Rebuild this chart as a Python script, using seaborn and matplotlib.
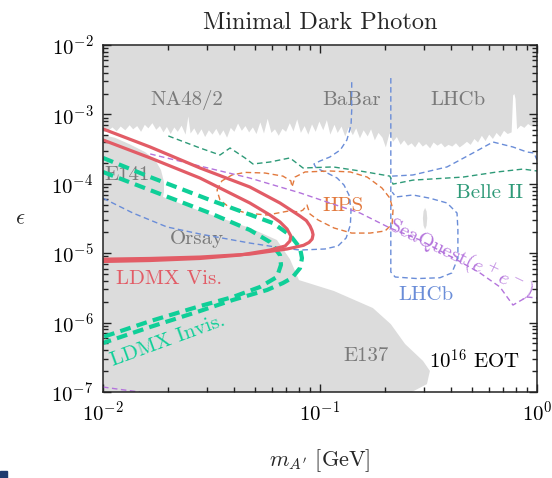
import matplotlib
matplotlib.use("Agg")
import matplotlib.pyplot as plt
from matplotlib.patches import Rectangle
from matplotlib.ticker import NullFormatter, LogLocator
import pandas as pd
import seaborn as sns

# ---------------- data (dark photon mass in GeV, kinetic mixing epsilon) ----------------
# Upper excluded region (NA48/2, BaBar, LHCb): lower edge of the shaded band
TOP_M = [0.0100, 0.0105, 0.0110, 0.0115, 0.0120, 0.0126, 0.0132, 0.0137, 0.0143, 0.0149,
         0.0155, 0.0161, 0.0168, 0.0175, 0.0182, 0.0189, 0.0196, 0.0204, 0.0212, 0.0220,
         0.0229, 0.0239, 0.0246, 0.0252, 0.0262, 0.0272, 0.0283, 0.0294, 0.0306, 0.0318,
         0.0331, 0.0344, 0.0357, 0.0371, 0.0386, 0.0401, 0.0417, 0.0434, 0.0451, 0.0469,
         0.0488, 0.0507, 0.0528, 0.0549, 0.0571, 0.0594, 0.0617, 0.0642, 0.0668, 0.0694,
         0.0722, 0.0751, 0.0781, 0.0812, 0.0845, 0.0879, 0.0914, 0.0950, 0.0988, 0.103,
         0.107, 0.111, 0.116, 0.120, 0.125, 0.130, 0.135, 0.141, 0.146, 0.152,
         0.158, 0.165, 0.171, 0.178, 0.185, 0.193, 0.200, 0.208, 0.216, 0.225,
         0.234, 0.243, 0.253, 0.263, 0.273, 0.284, 0.296, 0.307, 0.320, 0.332,
         0.346, 0.360, 0.374, 0.389, 0.405, 0.421, 0.438, 0.455, 0.473, 0.492,
         0.512, 0.532, 0.554, 0.576, 0.599, 0.623, 0.648, 0.674, 0.701, 0.729,
         0.760, 0.772, 0.782, 0.792, 0.805, 0.837, 0.870, 0.905, 0.941, 0.979, 1.000]
TOP_EPS = [6.4e-4, 5.9e-4, 6.6e-4, 5.8e-4, 6.8e-4, 6.0e-4, 7.1e-4, 6.2e-4, 6.9e-4, 5.7e-4,
           7.2e-4, 6.4e-4, 7.6e-4, 6.1e-4, 6.9e-4, 5.6e-4, 6.7e-4, 5.3e-4, 6.6e-4, 5.7e-4,
           7.0e-4, 5.2e-4, 9.5e-4, 5.4e-4, 6.4e-4, 5.1e-4, 6.2e-4, 4.8e-4, 6.0e-4, 5.2e-4,
           6.3e-4, 5.0e-4, 6.0e-4, 4.7e-4, 6.5e-4, 5.7e-4, 7.5e-4, 5.9e-4, 6.9e-4, 5.6e-4,
           6.6e-4, 5.3e-4, 7.8e-4, 5.4e-4, 8.8e-4, 5.5e-4, 6.2e-4, 5.0e-4, 6.3e-4, 5.7e-4,
           7.6e-4, 5.8e-4, 8.6e-4, 5.5e-4, 6.9e-4, 5.2e-4, 7.3e-4, 5.7e-4, 8.0e-4, 6.0e-4,
           8.4e-4, 5.2e-4, 7.2e-4, 5.5e-4, 6.8e-4, 4.9e-4, 6.6e-4, 5.1e-4, 6.4e-4, 4.6e-4,
           6.0e-4, 4.9e-4, 6.2e-4, 4.3e-4, 5.5e-4, 4.7e-4, 3.4e-4, 5.4e-4, 4.1e-4, 4.8e-4,
           3.7e-4, 4.3e-4, 3.6e-4, 3.9e-4, 3.4e-4, 4.1e-4, 3.5e-4, 3.8e-4, 3.3e-4, 4.0e-4,
           3.6e-4, 3.9e-4, 3.4e-4, 3.7e-4, 3.5e-4, 3.9e-4, 3.4e-4, 3.7e-4, 4.1e-4, 3.7e-4,
           4.5e-4, 4.0e-4, 5.0e-4, 4.2e-4, 5.2e-4, 4.5e-4, 5.5e-4, 4.8e-4, 5.9e-4, 5.3e-4,
           5.6e-4, 1.9e-3, 2.0e-3, 1.7e-3, 6.2e-4, 7.0e-4, 6.5e-4, 7.4e-4, 6.8e-4, 7.4e-4, 7.0e-4]

# Lower excluded region (E141, Orsay, E137 beam dumps), closed outline
LOW_M = [0.0100, 0.01136, 0.0133, 0.01562, 0.0174, 0.0185, 0.0191, 0.0191, 0.0189, 0.0280,
         0.0475, 0.0633, 0.0727, 0.0800, 0.116, 0.1754, 0.212, 0.2466, 0.2985, 0.321,
         0.311, 0.265, 0.0100]
LOW_EPS = [5.05e-4, 4.6e-4, 3.7e-4, 2.87e-4, 2.20e-4, 1.58e-4, 1.06e-4, 7.6e-5, 6.46e-5, 4.06e-5,
           2.31e-5, 1.55e-5, 8.2e-6, 4.1e-6, 2.85e-6, 1.62e-6, 9.5e-7, 4.92e-7, 2.80e-7, 2.01e-7,
           1.30e-7, 1.0e-7, 1.0e-7]

# Small isolated LHCb excluded island
ISLAND_M = [0.298, 0.300, 0.305, 0.310, 0.312, 0.310, 0.305, 0.300]
ISLAND_EPS = [3.2e-5, 4.0e-5, 4.5e-5, 4.0e-5, 3.2e-5, 2.5e-5, 2.2e-5, 2.5e-5]

# LDMX visible-decay reach (two contours)
VIS_OUT_M = [0.0100, 0.0165, 0.0280, 0.0475, 0.0654, 0.0809, 0.0865, 0.0899, 0.0920, 0.0929,
             0.0920, 0.0890, 0.0840, 0.0770, 0.0705, 0.0475, 0.0280, 0.0165, 0.0100]
VIS_OUT_EPS = [6.17e-4, 3.39e-4, 1.69e-4, 9.0e-5, 5.29e-5, 3.43e-5, 2.95e-5, 2.47e-5, 2.10e-5, 1.85e-5,
               1.60e-5, 1.43e-5, 1.30e-5, 1.22e-5, 1.15e-5, 9.7e-6, 8.8e-6, 8.4e-6, 8.2e-6]
VIS_IN_M = [0.0100, 0.0165, 0.0280, 0.0475, 0.0588, 0.0654, 0.0705, 0.0734, 0.0727, 0.0691,
            0.0588, 0.0428, 0.0280, 0.0165, 0.0100]
VIS_IN_EPS = [4.28e-4, 2.36e-4, 1.21e-4, 5.29e-5, 3.55e-5, 2.82e-5, 2.23e-5, 1.77e-5, 1.50e-5, 1.27e-5,
              1.11e-5, 9.4e-6, 8.4e-6, 7.85e-6, 7.6e-6]

# LDMX invisible-decay reach (two contours)
INV_OUT_M = [0.0100, 0.0165, 0.0311, 0.0606, 0.0727, 0.0809, 0.0826, 0.0809, 0.0743, 0.0675,
             0.0570, 0.0397, 0.0280, 0.0165, 0.0100]
INV_OUT_EPS = [2.36e-4, 1.25e-4, 5.85e-5, 2.72e-5, 1.83e-5, 1.19e-5, 8.5e-6, 6.1e-6, 4.4e-6, 3.72e-6,
               2.95e-6, 2.12e-6, 1.47e-6, 8.65e-7, 5.08e-7]
INV_IN_M = [0.0100, 0.0165, 0.0311, 0.0475, 0.0588, 0.0654, 0.0661, 0.0633, 0.0529, 0.0397,
            0.0280, 0.0165, 0.0100]
INV_IN_EPS = [1.48e-4, 8.1e-5, 3.79e-5, 2.16e-5, 1.45e-5, 9.4e-6, 6.8e-6, 4.54e-6, 3.26e-6, 2.34e-6,
              1.73e-6, 1.05e-6, 6.2e-7]

# Belle II projection
BELLE_M = [0.0200, 0.0280, 0.0346, 0.0385, 0.0451, 0.0491, 0.0588, 0.0727, 0.0835, 0.115,
           0.153, 0.210, 0.217, 0.268, 0.456, 0.654, 0.861, 1.000]
BELLE_EPS = [4.89e-4, 3.28e-4, 2.60e-4, 3.28e-4, 2.36e-4, 1.93e-4, 2.06e-4, 2.36e-4, 1.69e-4, 1.75e-4,
             1.53e-4, 1.29e-4, 9.9e-5, 1.13e-4, 1.25e-4, 1.48e-4, 1.63e-4, 1.53e-4]

# SeaQuest (e+e-) projection
SEAQ_M = [0.0165, 0.0280, 0.0475, 0.0809, 0.111, 0.153, 0.210, 0.289, 0.428, 0.546,
          0.675, 0.728, 0.775, 0.835, 0.899, 1.000]
SEAQ_EPS = [2.69e-4, 1.80e-4, 1.21e-4, 7.4e-5, 5.29e-5, 3.79e-5, 2.31e-5, 1.55e-5, 8.0e-6, 5.19e-6,
            3.26e-6, 2.34e-6, 1.79e-6, 2.05e-6, 2.34e-6, 2.26e-6]
SEAQ_LOW_M = [0.0100, 0.01197, 0.0148]
SEAQ_LOW_EPS = [1.18e-7, 1.09e-7, 1.0e-7]

# HPS projection
HPS_M = [0.0335, 0.0353, 0.0393, 0.0451, 0.0558, 0.0675, 0.0734, 0.0743, 0.0767, 0.0853,
         0.111, 0.138, 0.165, 0.193, 0.210, 0.217, 0.215, 0.1995, 0.170, 0.140,
         0.116, 0.098, 0.0899, 0.0871, 0.0835, 0.0800, 0.0719, 0.0570, 0.0456, 0.0385,
         0.0346, 0.0335]
HPS_EPS = [8.1e-5, 1.10e-4, 1.34e-4, 1.46e-4, 1.43e-4, 1.29e-4, 1.10e-4, 9.0e-5, 1.25e-4, 1.48e-4,
           1.53e-4, 1.48e-4, 1.25e-4, 8.7e-5, 6.2e-5, 4.19e-5, 2.64e-5, 2.09e-5, 1.95e-5, 1.95e-5,
           2.31e-5, 3.01e-5, 3.67e-5, 4.95e-5, 4.19e-5, 3.93e-5, 4.06e-5, 3.55e-5, 3.79e-5, 4.48e-5,
           5.85e-5, 8.1e-5]

# BaBar-line projection contour
BABAR_M = [0.0100, 0.01374, 0.0197, 0.0280, 0.0397, 0.0475, 0.0668, 0.0809, 0.1054, 0.121,
           0.132, 0.138, 0.139, 0.136, 0.129, 0.120, 0.108, 0.096, 0.0938, 0.100,
           0.111, 0.124, 0.133, 0.139, 0.140, 0.140]
BABAR_EPS = [6.2e-5, 3.79e-5, 2.39e-5, 1.89e-5, 1.55e-5, 1.40e-5, 1.19e-5, 1.11e-5, 1.15e-5, 1.27e-5,
             1.66e-5, 2.55e-5, 4.19e-5, 6.9e-5, 9.6e-5, 1.21e-4, 1.43e-4, 1.69e-4, 1.93e-4, 2.13e-4,
             2.43e-4, 3.07e-4, 4.28e-4, 7.0e-4, 1.16e-3, 2.93e-3]

# LHCb projections
LHCB_A_M = [0.212, 0.212, 0.222, 0.280, 0.357, 0.405, 0.432, 0.432, 0.428, 0.385,
            0.321, 0.268, 0.224, 0.215]
LHCB_A_EPS = [3.34e-3, 5.36e-6, 4.54e-6, 4.31e-6, 4.43e-6, 5.19e-6, 8.5e-6, 2.16e-5, 3.79e-5, 5.29e-5,
              6.2e-5, 6.9e-5, 6.46e-5, 7.6e-5]
LHCB_B_M = [0.215, 0.268, 0.385, 0.507, 0.627, 0.775, 0.899, 0.969, 1.000]
LHCB_B_EPS = [1.29e-4, 1.34e-4, 1.75e-4, 2.78e-4, 4.0e-4, 3.39e-4, 2.87e-4, 2.78e-4, 2.20e-4]

# ---------------- style ----------------
sns.set_theme(style="ticks")
plt.rcParams.update({
    "font.family": ["cmr10"],
    "mathtext.fontset": "cm",
    "axes.formatter.use_mathtext": True,
    "axes.unicode_minus": False,
    "axes.linewidth": 1.1,
    "axes.edgecolor": "#222222",
})

GRAY = "#dcdcdc"
GRAY_TXT = "#7a7a7a"
RED = "#e25c66"
MINT = "#0fcf98"
TEAL = "#2e9a78"
PURPLE = "#b474dc"
ORANGE = "#e2793d"
BLUE = "#6a8dd8"

fig = plt.figure(figsize=(5.52, 4.78), dpi=100)
ax = fig.add_axes([103 / 552, 1 - 392 / 478, 434 / 552, 347 / 478])
ax.set_xscale("log")
ax.set_yscale("log")
ax.set_axisbelow(False)

# shaded exclusions
ax.fill_between(TOP_M, TOP_EPS, 1e-2, color=GRAY, lw=0, zorder=1)
ax.fill(LOW_M, LOW_EPS, color=GRAY, lw=0, zorder=1)
ax.fill(ISLAND_M, ISLAND_EPS, color=GRAY, lw=0, zorder=1)


def curve(m, eps, color, lw, dash=None, z=3):
    frame = pd.DataFrame({"m": m, "eps": eps})
    style = "-" if dash is None else (0, dash)
    sns.lineplot(data=frame, x="m", y="eps", sort=False, estimator=None,
                 color=color, lw=lw, linestyle=style, legend=False, ax=ax, zorder=z)


thin = 1.0
curve(BABAR_M, BABAR_EPS, BLUE, thin, (4, 2.5))
curve(LHCB_A_M, LHCB_A_EPS, BLUE, thin, (4, 2.5))
curve(LHCB_B_M, LHCB_B_EPS, BLUE, thin, (4, 2.5))
curve(HPS_M, HPS_EPS, ORANGE, thin, (4, 2.5))
curve(BELLE_M, BELLE_EPS, TEAL, thin, (4, 2.5))
curve(SEAQ_M, SEAQ_EPS, PURPLE, thin, (4, 2.5))
curve(SEAQ_LOW_M, SEAQ_LOW_EPS, PURPLE, thin, (4, 2.5))
curve(INV_OUT_M, INV_OUT_EPS, MINT, 3.0, (2.6, 1.5), z=4)
curve(INV_IN_M, INV_IN_EPS, MINT, 3.0, (2.6, 1.5), z=4)
curve(VIS_OUT_M, VIS_OUT_EPS, RED, 2.3, z=5)
curve(VIS_IN_M, VIS_IN_EPS, RED, 2.3, z=5)

ax.set_xlim(1e-2, 1)
ax.set_ylim(1e-7, 1e-2)

# axis decorations
ax.xaxis.set_major_locator(LogLocator(base=10, numticks=10))
ax.yaxis.set_major_locator(LogLocator(base=10, numticks=10))
ax.xaxis.set_minor_locator(LogLocator(base=10, subs=range(2, 10), numticks=20))
ax.yaxis.set_minor_locator(LogLocator(base=10, subs=range(2, 10), numticks=20))
ax.xaxis.set_minor_formatter(NullFormatter())
ax.yaxis.set_minor_formatter(NullFormatter())
ax.tick_params(which="both", direction="in", top=True, right=True, width=1.0,
               colors="#222222", labelcolor="black")
ax.tick_params(which="major", length=5.5, labelsize=15)
ax.tick_params(axis="y", which="major", pad=7)
ax.tick_params(axis="x", which="major", pad=6)
ax.tick_params(which="minor", length=3.5)
for side in ax.spines.values():
    side.set_zorder(6)

ax.set_xlabel(r"$m_{A^\prime}$ [GeV]", fontsize=16, labelpad=16)
ax.set_ylabel(r"$\epsilon$", fontsize=16, rotation=0, labelpad=22, va="center")
fig.text(320 / 552, 1 - 23 / 478, "Minimal Dark Photon", ha="center", va="center", fontsize=17.5)

# region labels
lab = dict(ha="center", va="center", fontsize=15, zorder=2)
ax.text(0.0243, 1.61e-3, "NA48/2", color=GRAY_TXT, **lab)
ax.text(0.140, 1.61e-3, "BaBar", color=GRAY_TXT, **lab)
ax.text(0.432, 1.61e-3, "LHCb", color=GRAY_TXT, **lab)
ax.text(0.0102, 1.34e-4, "E141", color=GRAY_TXT, ha="left", va="center", fontsize=15, zorder=2)
ax.text(0.0271, 1.60e-5, "Orsay", color=GRAY_TXT, **lab)
ax.text(0.163, 3.3e-7, "E137", color=GRAY_TXT, **lab)
ax.text(0.604, 7.4e-5, "Belle II", color=TEAL, **lab)
ax.text(0.128, 4.79e-5, "HPS", color=ORANGE, **lab)
ax.text(0.308, 2.50e-6, "LHCb", color=BLUE, **lab)
ax.text(0.447, 8.5e-6, r"SeaQuest$(e^+e^-)$", color=PURPLE, rotation=-25.6,
        rotation_mode="anchor", **lab)
ax.text(0.0201, 4.25e-6, "LDMX Vis.", color=RED, **lab)
ax.text(0.0200, 5.4e-7, "LDMX Invis.", color=MINT, rotation=20, rotation_mode="anchor", **lab)
ax.text(0.518, 2.8e-7, r"$10^{16}$ EOT", color="black", **lab)

# small corner mark of the page
fig.patches.append(Rectangle((0, 0), 7 / 552, 7 / 478, transform=fig.transFigure,
                             color="#1f3a6e", zorder=10))

fig.savefig("out.png", dpi=100)
